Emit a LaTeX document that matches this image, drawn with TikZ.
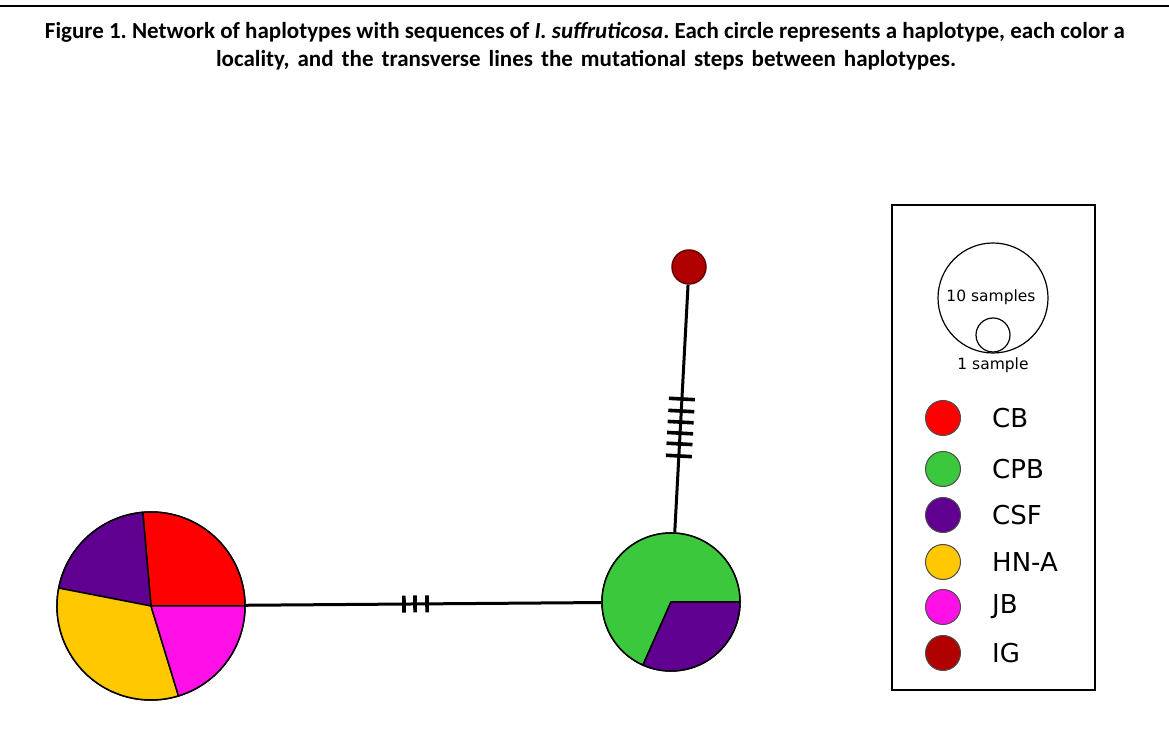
\documentclass[tikz,border=0pt]{standalone}
\usepackage{fontspec}
\setmainfont{Carlito}
\newfontfamily\legfont{DejaVu Sans}
\definecolor{cbred}{HTML}{FF0000}
\definecolor{cpbgreen}{HTML}{3CC83C}
\definecolor{csfpurple}{HTML}{600090}
\definecolor{hnyellow}{HTML}{FFC800}
\definecolor{jbmagenta}{HTML}{FF10E6}
\definecolor{igred}{HTML}{B00000}
\newcommand{\pieslice}[5]{\draw[slice, fill=#5] (#1) -- ++(#3:#2) arc[start angle=#3, end angle=#4, radius=#2] -- cycle;}
\tikzset{
  slice/.style={draw=black, line width=1.5},
  hap/.style={circle, inner sep=0, draw=black, line width=1.5},
  link/.style={line width=3, draw=black},
  tick/.style={rectangle, fill=black, inner sep=0, minimum width=3.6, sloped},
  legdot/.style={circle, inner sep=0, minimum size=35, draw=black!70, line width=1},
  leglabel/.style={anchor=west, font=\legfont\fontsize{26}{28}\selectfont, inner sep=0},
  smalllabel/.style={font=\legfont\fontsize{15.5}{17}\selectfont, inner sep=0},
  title/.style={font=\frenchspacing\bfseries\fontsize{23}{26}\selectfont, inner sep=0}
}
\begin{document}
\begin{tikzpicture}[x=1pt, y=1pt]
\useasboundingbox (0,0) rectangle (1169,744);
% top rule
\coordinate (ruleL) at (0,738);
\coordinate (ruleR) at (1169,738);
\draw[line width=2] (ruleL) -- (ruleR);
% title
\node[title] (t1) at (585,712) {Figure 1. Network of haplotypes with sequences of \textit{I. suffruticosa}. Each circle represents a haplotype, each color a};
\node[title] (t2) at (586,684) {\spaceskip=8pt locality, and the transverse lines the mutational steps between haplotypes.};
% haplotype nodes
\node[hap, minimum size=188] (hapL) at (151,138) {};
\node[hap, minimum size=138] (hapR) at (671,142) {};
\node[hap, minimum size=34, fill=igred, draw=igred!60!black] (hapIG) at (689,477) {};
% connectors
\draw[link] (hapL) -- (hapR);
\draw[link] (hapIG) -- (hapR);
% mutation ticks
\path (hapL.center) -- (hapR.center)
  node[tick, minimum height=17, pos=0.4865] (m1) {}
  node[tick, minimum height=17, pos=0.5077] (m2) {}
  node[tick, minimum height=17, pos=0.5308] (m3) {};
\path (hapIG.center) -- (hapR.center)
  node[tick, minimum height=26, pos=0.394] (v1) {}
  node[tick, minimum height=26, pos=0.430] (v2) {}
  node[tick, minimum height=26, pos=0.463] (v3) {}
  node[tick, minimum height=26, pos=0.496] (v4) {}
  node[tick, minimum height=26, pos=0.528] (v5) {}
  node[tick, minimum height=26, pos=0.564] (v6) {};
% pie slices
\pieslice{hapL.center}{94}{0}{95}{cbred}
\pieslice{hapL.center}{94}{95}{169}{csfpurple}
\pieslice{hapL.center}{94}{169}{287}{hnyellow}
\pieslice{hapL.center}{94}{287}{360}{jbmagenta}
\pieslice{hapR.center}{69}{0}{246}{cpbgreen}
\pieslice{hapR.center}{69}{246}{360}{csfpurple}
% legend
\node[draw=black, line width=1.5, minimum width=203, minimum height=485, inner sep=0] (legbox) at (993.5,296.5) {};
\node[circle, draw=black, line width=1.2, minimum size=110, inner sep=0] (big) at (993,446) {};
\node[circle, draw=black, line width=1.2, minimum size=34, inner sep=0] (small) at (993,409) {};
\node[smalllabel] (l10) at (991,447) {10 samples};
\node[smalllabel] (l1) at (993,379) {1 sample};
\node[legdot, fill=cbred] (dCB) at (943,326) {};
\node[legdot, fill=cpbgreen] (dCPB) at (943,275) {};
\node[legdot, fill=csfpurple] (dCSF) at (943,229) {};
\node[legdot, fill=hnyellow] (dHN) at (943,182) {};
\node[legdot, fill=jbmagenta] (dJB) at (943,137) {};
\node[legdot, fill=igred] (dIG) at (943,91) {};
\node[leglabel] (xCB) at (992,326) {CB};
\node[leglabel] (xCPB) at (992,275) {CPB};
\node[leglabel] (xCSF) at (992,229) {CSF};
\node[leglabel] (xHN) at (992,182) {HN-A};
\node[leglabel] (xJB) at (992,137) {JB};
\node[leglabel] (xIG) at (992,91) {IG};
\end{tikzpicture}
\end{document}
